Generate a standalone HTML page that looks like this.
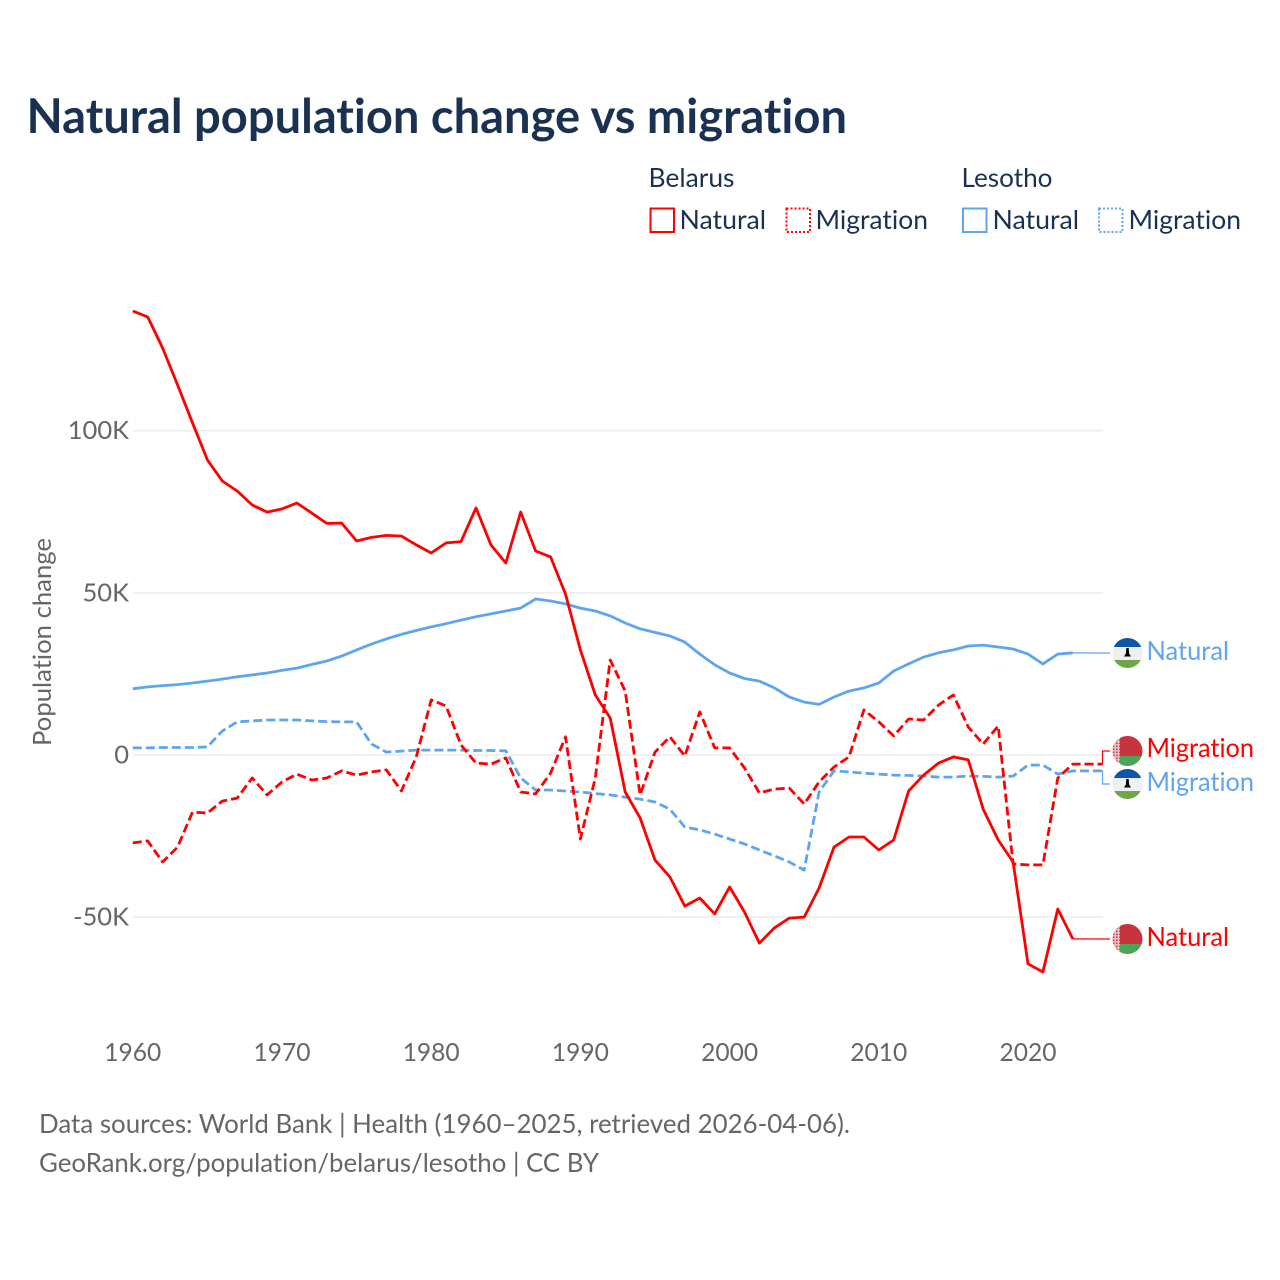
<!DOCTYPE html>
<html lang="en">
<head>
<meta charset="utf-8">
<title>Natural population change vs migration</title>
<style>
html,body{margin:0;padding:0;background:#fff;width:1280px;height:1280px;overflow:hidden}
svg{display:block}
text{font-family:"Lato","Carlito","Liberation Sans",sans-serif;font-variant-ligatures:none;font-feature-settings:"liga" 0,"clig" 0}
.lg{fill:#1a3152;font-size:26px}
.tick{fill:#666;font-size:25.5px}
.src{fill:#666;font-size:26px}
.end{font-size:26px}
</style>
</head>
<body>
<svg id="chart" xmlns="http://www.w3.org/2000/svg" width="1280" height="1280" viewBox="0 0 1280 1280">
  <defs>
    <clipPath id="flag-clip"><circle cx="0" cy="0" r="15"/></clipPath>
    <pattern id="orn" width="3" height="3" patternUnits="userSpaceOnUse">
      <rect width="3" height="3" fill="#f0c4c8"/>
      <rect x="0.5" y="0.5" width="1.6" height="1.6" fill="#cf3a47"/>
    </pattern>
    <g id="flag-by">
      <g clip-path="url(#flag-clip)">
        <rect x="-15" y="-15" width="30" height="20" fill="#c9323f"/>
        <rect x="-15" y="5" width="30" height="10" fill="#4ba457"/>
        <rect x="-15" y="-15" width="7.5" height="30" fill="url(#orn)"/>
      </g>
    </g>
    <g id="flag-ls">
      <g clip-path="url(#flag-clip)">
        <rect x="-15" y="-15" width="30" height="9" fill="#0f55a8"/>
        <rect x="-15" y="-6" width="30" height="13" fill="#f0f0f0"/>
        <rect x="-15" y="7" width="30" height="8" fill="#6fa64c"/>
        <path d="M-1.2,-5 L1.2,-5 L1.6,0.5 L3.5,3.5 L-3.5,3.5 L-1.6,0.5 Z" fill="#000"/>
      </g>
    </g>
  </defs>

  <text x="26.5" y="133" font-size="48" font-weight="700" fill="#1a3152" textLength="820.5" lengthAdjust="spacingAndGlyphs">Natural population change vs migration</text>

  <g>
    <text class="lg" x="648.5" y="187" textLength="86" lengthAdjust="spacingAndGlyphs">Belarus</text>
    <text class="lg" x="961.5" y="187" textLength="91" lengthAdjust="spacingAndGlyphs">Lesotho</text>
    <rect x="650.5" y="208.5" width="23.5" height="23.5" fill="none" stroke="#ff0000" stroke-width="2"/>
    <text class="lg" x="679.5" y="229" textLength="86.5" lengthAdjust="spacingAndGlyphs">Natural</text>
    <rect x="786.5" y="208.5" width="23.5" height="23.5" fill="none" stroke="#ff0000" stroke-width="2" stroke-dasharray="2 2"/>
    <text class="lg" x="815.5" y="229" textLength="112.5" lengthAdjust="spacingAndGlyphs">Migration</text>
    <rect x="963" y="208.5" width="23.5" height="23.5" fill="none" stroke="#5fa5ee" stroke-width="2"/>
    <text class="lg" x="992.5" y="229" textLength="86.5" lengthAdjust="spacingAndGlyphs">Natural</text>
    <rect x="1099" y="208.5" width="23.5" height="23.5" fill="none" stroke="#5fa5ee" stroke-width="2" stroke-dasharray="2 2"/>
    <text class="lg" x="1128.5" y="229" textLength="112.5" lengthAdjust="spacingAndGlyphs">Migration</text>
  </g>

  <g id="grid"></g>
  <g id="yticks"></g>
  <g id="xticks"></g>
  <text transform="translate(51,746) rotate(-90)" x="0" y="0" font-size="25.5" fill="#666" textLength="208" lengthAdjust="spacingAndGlyphs">Population change</text>
  <g id="series"></g>

  <g>
    <use href="#flag-ls" x="1127.5" y="653"/>
    <text class="end" x="1146.5" y="660" fill="#5fa5ee" textLength="82.5" lengthAdjust="spacingAndGlyphs">Natural</text>
    <use href="#flag-by" x="1127.5" y="751"/>
    <text class="end" x="1146.5" y="757" fill="#ff0000" textLength="107.5" lengthAdjust="spacingAndGlyphs">Migration</text>
    <use href="#flag-ls" x="1127.5" y="784"/>
    <text class="end" x="1146.5" y="791" fill="#5fa5ee" textLength="107.5" lengthAdjust="spacingAndGlyphs">Migration</text>
    <use href="#flag-by" x="1127.5" y="939"/>
    <text class="end" x="1146.5" y="946" fill="#ff0000" textLength="82.5" lengthAdjust="spacingAndGlyphs">Natural</text>
  </g>

  <text class="src" x="39" y="1133" textLength="811" lengthAdjust="spacingAndGlyphs">Data sources: World Bank | Health (1960–2025, retrieved 2026-04-06).</text>
  <text class="src" x="39" y="1172" textLength="560" lengthAdjust="spacingAndGlyphs">GeoRank.org/population/belarus/lesotho | CC BY</text>
</svg>

<script>
const firstYear = 1960;
const xTickYears = [1960, 1970, 1980, 1990, 2000, 2010, 2020];
const yTickValues = [100, 50, 0, -50];
const yTickLabels = ["100K", "50K", "0", "-50K"];

const belarusNatural = [136.9,135.1,125.5,114.1,102.4,91.0,84.5,81.4,77.1,74.9,
  75.9,77.7,74.6,71.4,71.5,66.0,67.1,67.7,67.5,64.8,
  62.3,65.4,65.8,76.2,64.8,59.2,74.9,62.9,61.1,49.6,
  32.4,18.5,11.4,-11.4,-19.4,-32.4,-37.6,-46.6,-44.1,-49.0,
  -40.7,-48.4,-58.0,-53.3,-50.3,-50.0,-41.0,-28.4,-25.3,-25.3,
  -29.3,-26.2,-11.1,-6.2,-2.5,-0.6,-1.5,-16.7,-26.2,-33.0,
  -64.4,-66.9,-47.5,-56.7];

const belarusMigration = [-27.1,-26.5,-33.0,-28.4,-17.6,-17.9,-14.2,-13.3,-7.1,-12.3,
  -8.3,-5.9,-7.7,-7.1,-4.9,-6.2,-5.2,-4.6,-11.1,-0.6,
  17.0,15.1,3.1,-2.5,-2.8,-0.9,-11.4,-12.0,-5.6,5.6,
  -25.9,-7.1,29.3,19.7,-12.3,0.9,5.6,-0.3,13.3,2.2,
  2.2,-4.0,-11.7,-10.5,-10.2,-15.1,-8.3,-3.7,-0.6,13.9,
  10.2,5.9,11.1,10.8,15.4,18.5,8.6,3.4,8.9,-33.6,
  -33.9,-33.9,-7.1,-2.8,-2.8,-2.8];

const lesothoNatural = [20.4,21.0,21.4,21.7,22.2,22.8,23.4,24.1,24.7,25.3,
  26.1,26.8,27.9,29.0,30.5,32.4,34.2,35.8,37.2,38.4,
  39.5,40.5,41.6,42.6,43.5,44.4,45.3,48.1,47.5,46.6,
  45.3,44.4,42.9,40.7,38.9,37.8,36.7,34.8,31.1,27.8,
  25.3,23.6,22.8,20.7,17.9,16.3,15.6,17.9,19.7,20.7,
  22.2,25.9,28.1,30.2,31.5,32.4,33.6,33.9,33.3,32.7,
  31.1,28.1,31.1,31.5];

const lesothoMigration = [2.2,2.2,2.3,2.3,2.3,2.5,7.4,10.2,10.5,10.8,
  10.8,10.8,10.5,10.3,10.2,10.2,3.4,0.9,1.2,1.5,
  1.5,1.5,1.5,1.4,1.4,1.3,-7.1,-10.8,-10.8,-11.1,
  -11.4,-11.9,-12.3,-13.0,-13.6,-14.5,-16.7,-22.2,-23.1,-24.4,
  -25.9,-27.4,-29.3,-31.1,-33.0,-35.5,-11.4,-4.9,-5.2,-5.6,
  -5.9,-6.2,-6.3,-6.5,-6.8,-6.8,-6.5,-6.6,-6.8,-6.5,
  -3.1,-3.1,-5.9,-4.9,-4.9,-4.9];

const NS = "http://www.w3.org/2000/svg";
const RED = "#ff0000";
const BLUE = "#5fa5ee";
const xScale = function (year) { return 132.8 + (year - firstYear) * 14.92; };
const yScale = function (k) { return 755 - k * 3.243; };

function make(tag, parent, attrs) {
  const el = document.createElementNS(NS, tag);
  for (const key in attrs) { el.setAttribute(key, attrs[key]); }
  parent.appendChild(el);
  return el;
}

const grid = document.getElementById("grid");
const yticks = document.getElementById("yticks");
yTickValues.forEach(function (v, i) {
  const line = make("line", grid, { x1: 133, x2: 1103, y1: yScale(v), y2: yScale(v), stroke: "#ebebeb", "stroke-width": 1.5 });
  
  
  const label = make("text", yticks, { x: 129, y: yScale(v) + 8.5, "text-anchor": "end", class: "tick" });
  label.textContent = yTickLabels[i];
  
  
});

const xticks = document.getElementById("xticks");
xTickYears.forEach(function (year) {
  const label = make("text", xticks, { x: xScale(year), y: 1061, "text-anchor": "middle", class: "tick", textLength: 57, lengthAdjust: "spacingAndGlyphs" });
  label.textContent = String(year);
  
  
});

function pathFor(values) {
  return values.map(function (v, i) {
    return (i ? "L" : "M") + xScale(firstYear + i).toFixed(1) + "," + yScale(v).toFixed(1);
  }).join(" ");
}

const seriesGroup = document.getElementById("series");

function connectorPath(values, flagY) {
  const lastYear = firstYear + values.length - 1;
  const x0 = xScale(lastYear);
  const y0 = yScale(values[values.length - 1]);
  if (Math.abs(y0 - flagY) < 2.5) { return "M" + x0 + "," + y0 + " L1110," + flagY; }
  return "M" + x0 + "," + y0 + " L1102.5," + y0 + " L1102.5," + flagY + " L1110," + flagY;
}

const lesothoMigrationLine = make("path", seriesGroup, { d: pathFor(lesothoMigration), fill: "none", stroke: BLUE, "stroke-width": 2.8, "stroke-dasharray": "9 4", "stroke-linejoin": "round" });



const lesothoNaturalLine = make("path", seriesGroup, { d: pathFor(lesothoNatural), fill: "none", stroke: BLUE, "stroke-width": 2.8, "stroke-linejoin": "round" });



const belarusMigrationLine = make("path", seriesGroup, { d: pathFor(belarusMigration), fill: "none", stroke: RED, "stroke-width": 2.8, "stroke-dasharray": "9 4", "stroke-linejoin": "round" });



const belarusNaturalLine = make("path", seriesGroup, { d: pathFor(belarusNatural), fill: "none", stroke: RED, "stroke-width": 2.8, "stroke-linejoin": "round" });



const connA = make("path", seriesGroup, { d: connectorPath(lesothoNatural, 653), fill: "none", stroke: BLUE, "stroke-width": 1.2 });



const connB = make("path", seriesGroup, { d: connectorPath(belarusMigration, 751), fill: "none", stroke: RED, "stroke-width": 1.2 });



const connC = make("path", seriesGroup, { d: connectorPath(lesothoMigration, 784), fill: "none", stroke: BLUE, "stroke-width": 1.2 });



const connD = make("path", seriesGroup, { d: connectorPath(belarusNatural, 939), fill: "none", stroke: RED, "stroke-width": 1.2 });


</script>
</body>
</html>
